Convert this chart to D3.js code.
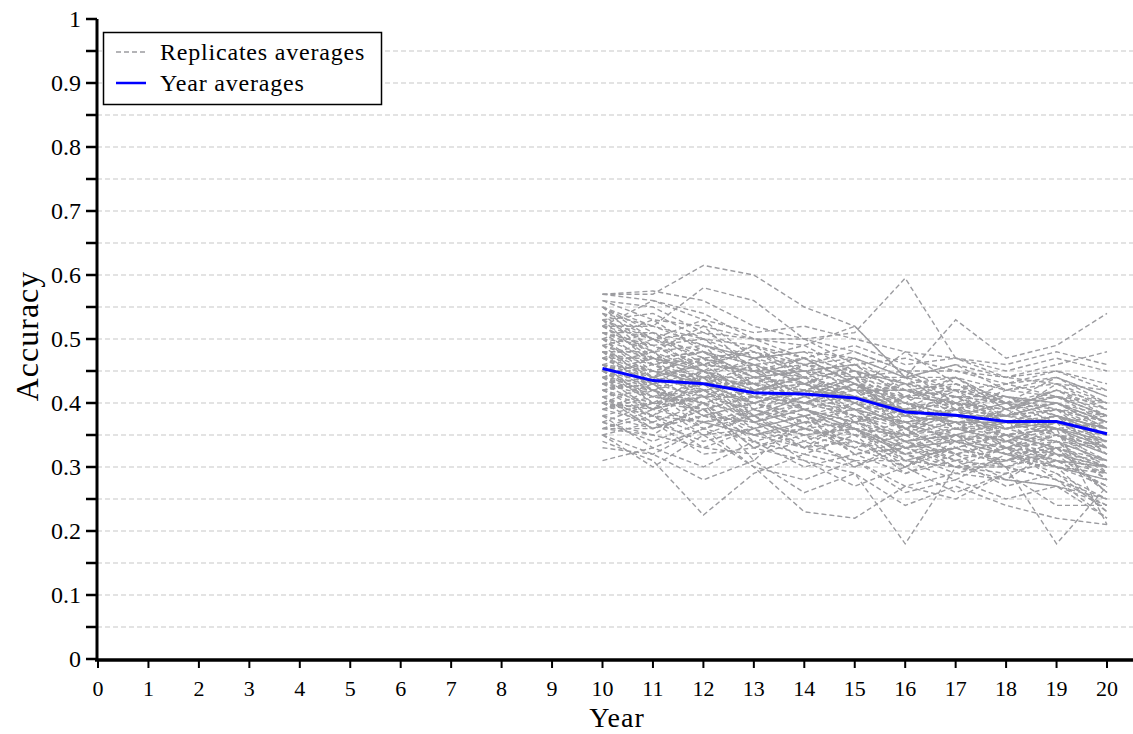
<!DOCTYPE html>
<html>
<head>
<meta charset="utf-8">
<script src="https://cdn.jsdelivr.net/npm/d3@7.9.0/dist/d3.min.js"></script>
<style>
  body { margin: 0; background: #fff; }
  text { font-family: "Liberation Serif", "DejaVu Serif", serif; fill: #000; }
</style>
</head>
<body>
<svg id="chart" width="1133" height="734"></svg>
<script>
const years = [10, 11, 12, 13, 14, 15, 16, 17, 18, 19, 20];
const xTicks = d3.range(0, 21);
const yMajor = [0, 0.1, 0.2, 0.3, 0.4, 0.5, 0.6, 0.7, 0.8, 0.9, 1];
const yGrid = [0.05, 0.1, 0.15, 0.2, 0.25, 0.3, 0.35, 0.4, 0.45, 0.5, 0.55, 0.6, 0.65, 0.7, 0.75, 0.8, 0.85, 0.9, 0.95];

// year averages (blue line)
const yearAverages = [0.454, 0.435, 0.430, 0.416, 0.414, 0.408, 0.386, 0.381, 0.371, 0.371, 0.352];

// replicate averages (grey dashed lines), one row per replicate, years 10..20
const replicates = [
  [.57,.575,.56,.52,.50,.48,.45,.42,.40,.41,.38],
  [.57,.57,.615,.60,.55,.52,.44,.46,.42,.44,.40],
  [.55,.52,.58,.56,.50,.51,.595,.47,.44,.46,.48],
  [.52,.56,.54,.50,.49,.52,.44,.53,.47,.49,.54],
  [.31,.33,.30,.34,.36,.33,.30,.35,.32,.30,.27],
  [.34,.31,.225,.29,.32,.30,.33,.31,.30,.28,.25],
  [.35,.30,.35,.30,.23,.22,.27,.25,.29,.31,.30],
  [.40,.38,.33,.36,.31,.29,.18,.30,.33,.28,.22],
  [.45,.42,.40,.31,.38,.36,.32,.35,.30,.18,.27],
  [.48,.45,.43,.40,.42,.44,.40,.36,.35,.36,.21],
  [.50,.47,.45,.43,.44,.42,.48,.43,.40,.38,.34],
  [.44,.46,.43,.42,.44,.41,.39,.40,.38,.39,.37],
  [.46,.44,.46,.41,.40,.43,.38,.37,.36,.37,.35],
  [.42,.40,.41,.39,.41,.39,.36,.38,.35,.36,.33],
  [.47,.45,.44,.44,.42,.41,.40,.39,.38,.39,.36],
  [.43,.41,.42,.40,.38,.40,.37,.36,.37,.35,.34],
  [.49,.46,.47,.45,.44,.42,.41,.40,.39,.41,.38],
  [.41,.42,.39,.41,.40,.38,.35,.36,.34,.35,.32],
  [.45,.43,.41,.42,.43,.40,.38,.39,.37,.36,.35],
  [.48,.44,.43,.43,.41,.43,.40,.38,.38,.37,.36],
  [.39,.41,.40,.38,.39,.37,.34,.35,.33,.34,.31],
  [.53,.50,.48,.46,.47,.45,.43,.41,.40,.42,.39],
  [.36,.38,.37,.35,.36,.34,.32,.33,.31,.32,.29],
  [.51,.48,.49,.46,.44,.45,.42,.41,.41,.40,.37],
  [.44,.43,.45,.40,.42,.39,.37,.38,.36,.38,.36],
  [.46,.42,.44,.43,.39,.41,.39,.37,.37,.35,.33],
  [.42,.44,.42,.40,.43,.40,.36,.37,.38,.36,.34],
  [.50,.49,.46,.45,.45,.43,.42,.40,.39,.40,.37],
  [.38,.36,.38,.37,.35,.36,.33,.34,.32,.33,.30],
  [.47,.47,.45,.42,.43,.42,.39,.41,.37,.38,.36],
  [.55,.50,.51,.48,.46,.47,.44,.44,.42,.43,.40],
  [.40,.39,.37,.39,.36,.37,.35,.34,.35,.33,.31],
  [.43,.45,.41,.44,.40,.39,.40,.36,.36,.37,.35],
  [.45,.40,.42,.38,.41,.38,.36,.35,.34,.36,.32],
  [.49,.43,.44,.41,.42,.44,.37,.39,.38,.40,.37],
  [.37,.40,.39,.36,.38,.35,.34,.32,.34,.31,.30],
  [.52,.47,.48,.44,.45,.46,.41,.42,.40,.41,.39],
  [.41,.37,.40,.35,.37,.36,.31,.33,.31,.34,.28],
  [.46,.48,.43,.45,.41,.42,.40,.38,.36,.38,.35],
  [.44,.41,.39,.41,.39,.36,.35,.37,.33,.35,.33],
  [.54,.52,.50,.47,.48,.44,.42,.43,.41,.40,.38],
  [.39,.42,.38,.40,.37,.39,.33,.36,.34,.32,.30],
  [.48,.46,.42,.43,.40,.41,.38,.37,.35,.37,.34],
  [.42,.39,.43,.37,.39,.35,.37,.34,.33,.31,.29],
  [.53,.54,.50,.49,.46,.48,.45,.45,.43,.45,.42],
  [.36,.35,.33,.32,.34,.31,.27,.29,.28,.27,.24],
  [.50,.44,.46,.45,.41,.44,.36,.40,.37,.39,.35],
  [.43,.44,.40,.42,.44,.37,.39,.33,.35,.34,.33],
  [.47,.43,.47,.39,.42,.40,.41,.36,.39,.36,.37],
  [.40,.43,.38,.37,.33,.36,.32,.30,.31,.33,.26],
  [.51,.46,.44,.47,.43,.41,.43,.38,.38,.40,.36],
  [.45,.47,.41,.41,.46,.45,.38,.42,.36,.38,.35],
  [.38,.33,.36,.34,.30,.32,.29,.31,.27,.29,.25],
  [.49,.51,.47,.44,.45,.40,.44,.39,.42,.41,.40],
  [.42,.38,.44,.39,.37,.38,.34,.35,.37,.32,.31],
  [.56,.53,.52,.50,.47,.49,.46,.47,.45,.47,.45],
  [.35,.37,.32,.33,.31,.27,.30,.26,.29,.24,.24],
  [.46,.45,.43,.46,.39,.37,.41,.40,.34,.37,.33],
  [.44,.42,.45,.38,.40,.42,.36,.39,.35,.33,.34],
  [.48,.48,.42,.44,.43,.39,.37,.38,.40,.35,.32],
  [.55,.51,.49,.47,.45,.46,.43,.42,.43,.44,.41],
  [.36,.39,.41,.37,.39,.36,.33,.35,.32,.30,.28],
  [.53,.49,.50,.45,.47,.43,.40,.44,.39,.42,.38],
  [.37,.34,.37,.35,.33,.34,.31,.30,.29,.31,.27],
  [.54,.50,.47,.48,.44,.47,.42,.41,.38,.43,.39],
  [.39,.40,.36,.38,.35,.33,.36,.32,.31,.30,.29],
  [.52,.52,.49,.47,.49,.45,.43,.44,.40,.44,.41],
  [.40,.36,.39,.33,.36,.34,.30,.33,.30,.32,.26],
  [.51,.49,.45,.46,.43,.46,.41,.42,.41,.39,.38],
  [.38,.40,.35,.36,.38,.32,.34,.31,.33,.30,.23],
  [.55,.48,.52,.45,.46,.44,.45,.40,.43,.41,.37],
  [.41,.38,.35,.38,.34,.37,.32,.29,.31,.34,.29],
  [.50,.53,.48,.44,.47,.43,.39,.43,.39,.42,.40],
  [.37,.35,.40,.34,.32,.35,.29,.32,.28,.27,.25],
  [.54,.47,.46,.49,.44,.42,.42,.39,.41,.38,.36],
  [.43,.42,.36,.39,.36,.35,.33,.34,.30,.33,.28],
  [.52,.50,.53,.47,.48,.47,.44,.46,.44,.43,.42],
  [.39,.37,.34,.36,.33,.31,.31,.28,.32,.29,.23],
  [.49,.47,.48,.43,.46,.42,.42,.40,.39,.41,.38],
  [.40,.38,.42,.37,.35,.36,.30,.34,.32,.31,.27],
  [.47,.50,.45,.42,.40,.43,.38,.41,.37,.36,.34],
  [.44,.39,.41,.36,.38,.33,.35,.31,.33,.32,.30],
  [.53,.46,.48,.46,.43,.45,.40,.38,.40,.39,.37],
  [.36,.36,.39,.33,.35,.30,.34,.30,.28,.33,.26],
  [.51,.51,.46,.48,.45,.44,.44,.42,.38,.40,.36],
  [.42,.43,.37,.38,.33,.38,.31,.33,.35,.30,.28],
  [.47,.44,.49,.42,.44,.40,.39,.37,.37,.39,.33],
  [.41,.36,.38,.35,.37,.32,.33,.30,.30,.28,.24],
  [.56,.55,.51,.50,.50,.46,.47,.45,.44,.45,.43],
  [.33,.32,.36,.30,.28,.31,.26,.28,.25,.27,.22],
  [.50,.45,.47,.43,.42,.41,.39,.38,.36,.38,.32],
  [.45,.41,.43,.40,.38,.39,.34,.36,.34,.33,.30],
  [.57,.56,.53,.51,.52,.50,.48,.47,.46,.48,.46],
  [.46,.40,.44,.37,.40,.38,.37,.34,.36,.34,.31],
  [.48,.42,.40,.42,.39,.37,.38,.35,.37,.35,.31],
  [.44,.47,.44,.38,.41,.44,.35,.39,.33,.36,.33],
  [.35,.32,.28,.31,.26,.29,.24,.27,.24,.22,.21],
  [.43,.39,.45,.41,.36,.40,.36,.32,.34,.37,.29],
  [.52,.48,.45,.49,.47,.43,.41,.44,.40,.37,.38],
  [.46,.43,.38,.40,.42,.36,.35,.37,.32,.35,.30]
];

const svg = d3.select("#chart");

const x = d3.scaleLinear().domain([0, 20]).range([98, 1107]);
const y = d3.scaleLinear().domain([0, 1]).range([659, 19]);

// Grid lines
svg.append("g")
    .selectAll("line")
    .data(yGrid)
    .join("line")
    .attr("x1", 97)
    .attr("x2", 1133)
    .attr("y1", d => y(d))
    .attr("y2", d => y(d))
    .attr("stroke", "#c8c8c8")
    .attr("stroke-width", 1.2)
    .attr("stroke-dasharray", "5,3");

// Replicate lines
const line = d3.line()
    .x((d, i) => x(years[i]))
    .y(d => y(d));

svg.append("g")
    .selectAll("path")
    .data(replicates)
    .join("path")
    .attr("d", line)
    .attr("fill", "none")
    .attr("stroke", "#9c9ca0")
    .attr("stroke-width", 1.4)
    .attr("stroke-dasharray", "5,3");

// Year averages
svg.append("path")
    .datum(yearAverages)
    .attr("d", line)
    .attr("fill", "none")
    .attr("stroke", "#0000ff")
    .attr("stroke-width", 3);

// Y axis
svg.append("line")
    .attr("x1", 97).attr("x2", 97)
    .attr("y1", y(1)).attr("y2", 661)
    .attr("stroke", "#000").attr("stroke-width", 3);

svg.append("g")
    .selectAll("line")
    .data(yMajor.concat(yGrid.filter(d => Math.round(d * 100) % 10 !== 0)))
    .join("line")
    .attr("x1", 86).attr("x2", 97)
    .attr("y1", d => y(d)).attr("y2", d => y(d))
    .attr("stroke", "#000").attr("stroke-width", 2.5);

svg.append("g")
    .selectAll("text")
    .data(yMajor)
    .join("text")
    .attr("x", 81)
    .attr("y", d => y(d))
    .attr("dy", "0.35em")
    .attr("text-anchor", "end")
    .style("font-size", "24px")
    .text(d => d3.format("~g")(d));

// X axis
svg.append("line")
    .attr("x1", 95).attr("x2", 1133)
    .attr("y1", 660).attr("y2", 660)
    .attr("stroke", "#000").attr("stroke-width", 3.5);

svg.append("g")
    .selectAll("line")
    .data(xTicks)
    .join("line")
    .attr("x1", d => x(d)).attr("x2", d => x(d))
    .attr("y1", 660).attr("y2", 668)
    .attr("stroke", "#000").attr("stroke-width", 2);

svg.append("g")
    .selectAll("text")
    .data(xTicks)
    .join("text")
    .attr("x", d => x(d))
    .attr("y", 696)
    .attr("text-anchor", "middle")
    .style("font-size", "22px")
    .text(d => d);

// Axis titles
svg.append("text")
    .attr("x", 617)
    .attr("y", 727)
    .attr("text-anchor", "middle")
    .style("font-size", "28px")
    .style("letter-spacing", "1px")
    .text("Year");

svg.append("text")
    .attr("transform", "translate(38,336) rotate(-90)")
    .attr("text-anchor", "middle")
    .style("font-size", "32px")
    .style("letter-spacing", "1px")
    .text("Accuracy");

// Legend
const legend = svg.append("g");
legend.append("rect")
    .attr("x", 103.5).attr("y", 32.5)
    .attr("width", 278).attr("height", 72)
    .attr("fill", "#fff")
    .attr("stroke", "#000").attr("stroke-width", 1.5);

legend.append("line")
    .attr("x1", 116).attr("x2", 146)
    .attr("y1", 52).attr("y2", 52)
    .attr("stroke", "#9c9ca0").attr("stroke-width", 1.3)
    .attr("stroke-dasharray", "5,3");
legend.append("text")
    .attr("x", 160).attr("y", 52).attr("dy", "0.35em")
    .style("font-size", "24px")
    .style("letter-spacing", "0.8px")
    .text("Replicates averages");

legend.append("line")
    .attr("x1", 116).attr("x2", 146)
    .attr("y1", 83).attr("y2", 83)
    .attr("stroke", "#0000ff").attr("stroke-width", 2.5);
legend.append("text")
    .attr("x", 160).attr("y", 83).attr("dy", "0.35em")
    .style("font-size", "24px")
    .style("letter-spacing", "0.8px")
    .text("Year averages");
</script>
</body>
</html>
